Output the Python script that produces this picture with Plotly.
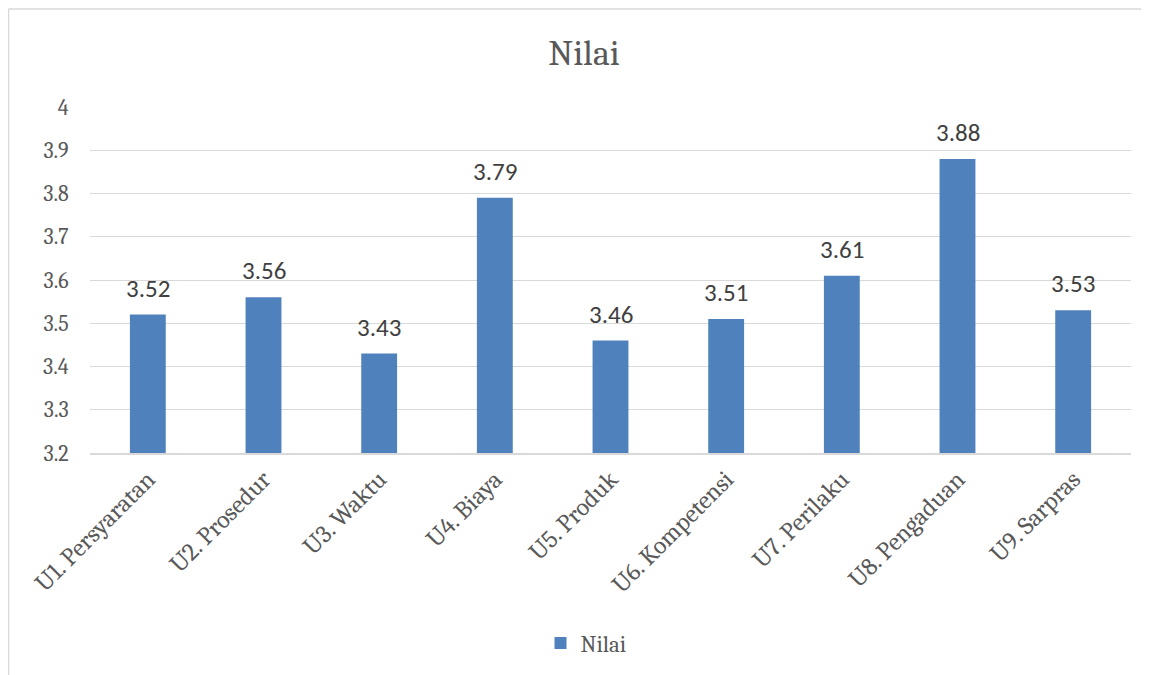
import plotly.graph_objects as go

categories = ["U1. Persyaratan", "U2. Prosedur", "U3. Waktu", "U4. Biaya", "U5. Produk",
              "U6. Kompetensi", "U7. Perilaku", "U8. Pengaduan", "U9. Sarpras"]
values = [3.52, 3.56, 3.43, 3.79, 3.46, 3.51, 3.61, 3.88, 3.53]
y_ticks = [3.2, 3.3, 3.4, 3.5, 3.6, 3.7, 3.8, 3.9, 4.0]
y_tick_labels = ["3.2", "3.3", "3.4", "3.5", "3.6", "3.7", "3.8", "3.9", "4"]

W, H = 1149, 675
ML, MR, MT, MB = 82, 26, 99, 230
pw, ph = W - ML - MR, H - MT - MB

serif = "Cambria, Caladea, 'DejaVu Serif', serif"
sans = "Calibri, Carlito, 'Liberation Sans', Arial, sans-serif"

fig = go.Figure()
fig.add_trace(go.Bar(
    x=categories, y=values, name="Nilai",
    marker=dict(color="#4F81BD", line=dict(width=0)),
))

for c, v in zip(categories, values):
    fig.add_annotation(x=c, y=v, text=f"{v:.2f}", showarrow=False,
                       xanchor="center", yanchor="bottom", yshift=9,
                       font=dict(family=sans, size=25, color="#404040"))

def px_x(x):
    return (x - ML) / pw

def px_y(y):
    return 1 - (y - MT) / ph

fig.update_layout(
    width=W, height=H,
    margin=dict(l=ML, r=MR, t=MT, b=MB),
    paper_bgcolor="white", plot_bgcolor="white",
    bargap=0.69,
    title=dict(text="Nilai", x=576 / W, xanchor="center", y=1 - 44 / H, yanchor="middle",
               font=dict(family=serif, size=36, color="#595959")),
    xaxis=dict(tickangle=-45, tickfont=dict(family=serif, size=25, color="#595959"),
               showgrid=False, showline=True, linecolor="#D9D9D9", linewidth=1.5,
               ticks=""),
    yaxis=dict(range=[3.2, 4.0], tickvals=y_ticks, ticktext=y_tick_labels,
               tickfont=dict(family=serif, size=22, color="#595959"),
               showgrid=True, gridcolor="#D9D9D9", gridwidth=1.3,
               zeroline=False, showline=False, ticks="outside", ticklen=16, tickcolor="white"),
    showlegend=True,
    legend=dict(orientation="h", x=578 / W, xanchor="center", itemwidth=30,
                xref="container", y=1 - 635 / H, yanchor="middle", yref="container",
                font=dict(family=serif, size=23, color="#595959")),
    shapes=[
        dict(type="line", xref="paper", yref="paper", x0=px_x(0.5), x1=px_x(W + 5),
             y0=px_y(1), y1=px_y(1), line=dict(color="#D9D9D9", width=1.5)),
        dict(type="line", xref="paper", yref="paper", x0=px_x(0.5), x1=px_x(0.5),
             y0=px_y(1), y1=px_y(H + 5), line=dict(color="#D9D9D9", width=1.5)),
    ],
)

fig.write_html("out.html")
